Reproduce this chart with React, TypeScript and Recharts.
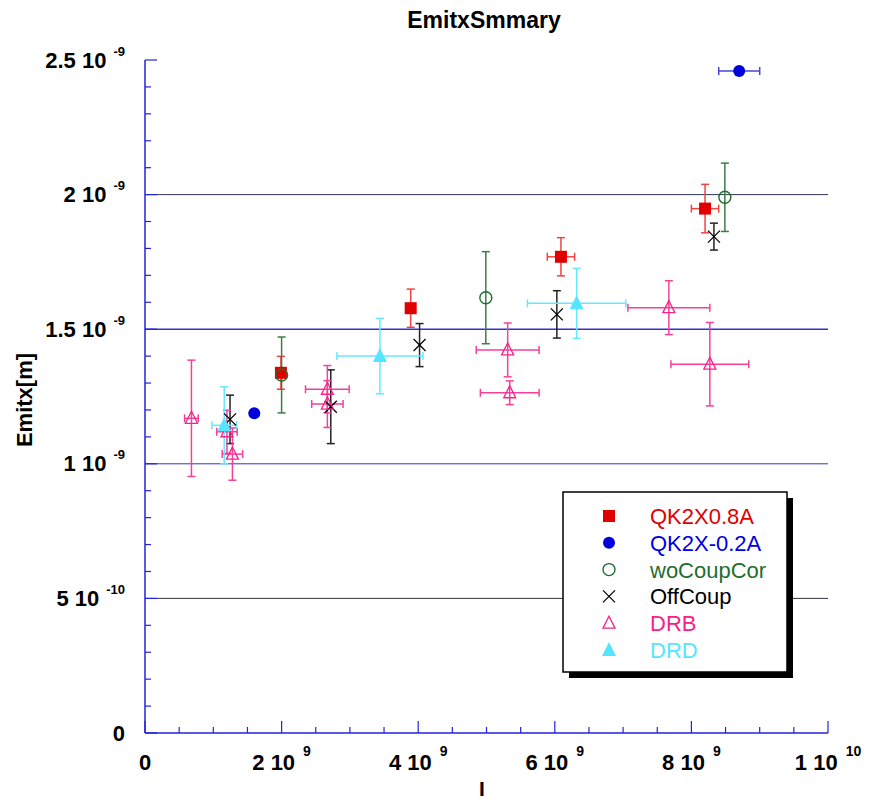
import { ScatterChart, Scatter, XAxis, YAxis, ErrorBar, ReferenceLine } from 'recharts';

// x in units of 1e9 (I), y in units of 1e-9 m (Emitx)
const X_TICKS = [0, 0.5, 1, 1.5, 2, 2.5, 3, 3.5, 4, 4.5, 5, 5.5, 6, 6.5, 7, 7.5, 8, 8.5, 9, 9.5, 10];
const Y_TICKS = [
  0, 0.1, 0.2, 0.3, 0.4, 0.5, 0.6, 0.7, 0.8, 0.9, 1, 1.1, 1.2, 1.3, 1.4, 1.5, 1.6, 1.7, 1.8, 1.9, 2, 2.1,
  2.2, 2.3, 2.4, 2.5,
];
const X_LABEL_VALUES = [0, 2, 4, 6, 8, 10];
const X_LABEL_BASE = ['0', '2 10', '4 10', '6 10', '8 10', '1 10'];
const X_LABEL_EXP = ['', '9', '9', '9', '9', '10'];
const Y_LABEL_VALUES = [0, 0.5, 1, 1.5, 2, 2.5];
const Y_LABEL_BASE = ['0', '5 10', '1 10', '1.5 10', '2 10', '2.5 10'];
const Y_LABEL_EXP = ['', '-10', '-9', '-9', '-9', '-9'];

// QK2X0.8A
const QK08_I = [1.99, 3.89, 6.09, 8.2];
const QK08_EMIT = [1.338, 1.578, 1.769, 1.948];
const QK08_EI = [0, 0, 0.2, 0.2];
const QK08_EE = [0.061, 0.071, 0.071, 0.09];
// QK2X-0.2A
const QKM02_I = [1.6, 8.7];
const QKM02_EMIT = [1.188, 2.459];
const QKM02_EI = [0, 0.3];
const QKM02_EE = [0, 0];
// woCoupCor
const WOCOUP_I = [2.0, 4.99, 8.49];
const WOCOUP_EMIT = [1.33, 1.617, 1.99];
const WOCOUP_EE = [0.141, 0.171, 0.127];
// OffCoup
const OFF_I = [1.245, 2.72, 4.02, 6.03, 8.33];
const OFF_EMIT = [1.165, 1.212, 1.441, 1.555, 1.844];
const OFF_EE = [0.09, 0.137, 0.08, 0.088, 0.05];
// DRB
const DRB_I = [0.68, 1.2, 1.28, 2.67, 2.67, 5.31, 5.34, 7.67, 8.27];
const DRB_EMIT = [1.169, 1.119, 1.036, 1.277, 1.222, 1.423, 1.264, 1.58, 1.37];
const DRB_EI = [0.1, 0.15, 0.15, 0.32, 0.23, 0.46, 0.43, 0.6, 0.57];
const DRB_EE = [0.216, 0.08, 0.097, 0.088, 0.087, 0.1, 0.044, 0.1, 0.155];
// DRD
const DRD_I = [1.16, 3.44, 6.32];
const DRD_EMIT = [1.143, 1.4, 1.596];
const DRD_EI = [0.18, 0.63, 0.72];
const DRD_EE = [0.143, 0.14, 0.13];

const FRAME = '#2222dd';
const FONT = '"Liberation Sans", Arial, Helvetica, sans-serif';

const COLORS = {
  qk08: '#e00000',
  qkm02: '#0000dd',
  wocoup: '#1e6e2e',
  off: '#000000',
  drb: '#f5228a',
  drd: '#55e5ff',
};

const toPoints = (xs: number[], ys: number[], exs?: number[], eys?: number[]) =>
  xs.map((x, i) => ({ x, y: ys[i], ex: exs ? exs[i] : 0, ey: eys ? eys[i] : 0 }));

type Kind = 'square' | 'disc' | 'ring' | 'cross' | 'triOpen' | 'triFill';

function Marker({ kind, cx, cy, color }: { kind: Kind; cx: number; cy: number; color: string }) {
  switch (kind) {
    case 'square':
      return <rect x={cx - 6} y={cy - 6} width={12} height={12} fill={color} />;
    case 'disc':
      return <circle cx={cx} cy={cy} r={6} fill={color} />;
    case 'ring':
      return <circle cx={cx} cy={cy} r={6} fill="none" stroke={color} strokeWidth={1.4} />;
    case 'cross':
      return (
        <g stroke={color} strokeWidth={1.3}>
          <line x1={cx - 6} y1={cy - 6} x2={cx + 6} y2={cy + 6} />
          <line x1={cx - 6} y1={cy + 6} x2={cx + 6} y2={cy - 6} />
        </g>
      );
    case 'triOpen':
      return (
        <polygon
          points={`${cx},${cy - 7} ${cx - 6},${cy + 5} ${cx + 6},${cy + 5}`}
          fill="none"
          stroke={color}
          strokeWidth={1.3}
        />
      );
    default:
      return <polygon points={`${cx},${cy - 8} ${cx - 7},${cy + 6} ${cx + 7},${cy + 6}`} fill={color} />;
  }
}

const shape = (kind: Kind, color: string) => (p: any) => <Marker kind={kind} cx={p.cx} cy={p.cy} color={color} />;

const isMajor = (v: number, step: number) => Math.abs(v / step - Math.round(v / step)) < 1e-6;

function BottomTick({ x, y, payload }: any) {
  const v = payload.value;
  const idx = X_LABEL_VALUES.findIndex((t) => Math.abs(t - v) < 1e-6);
  const len = isMajor(v, 2) ? 12 : 6;
  return (
    <g>
      <line x1={x} x2={x} y1={y} y2={y - len} stroke={FRAME} strokeWidth={1.2} />
      {idx >= 0 && (
        <text x={x} y={y + 37} textAnchor="middle" fontFamily={FONT} fontWeight="bold" fontSize={22} fill="#000">
          <tspan>{X_LABEL_BASE[idx]}</tspan>
          {X_LABEL_EXP[idx] && (
            <tspan dx={8} dy={-14} fontSize={14}>
              {X_LABEL_EXP[idx]}
            </tspan>
          )}
        </text>
      )}
    </g>
  );
}

function TopTick({ x, y, payload }: any) {
  const len = isMajor(payload.value, 2) ? 12 : 6;
  return <line x1={x} x2={x} y1={y} y2={y + len} stroke={FRAME} strokeWidth={1.2} />;
}

function LeftTick({ x, y, payload }: any) {
  const v = payload.value;
  const idx = Y_LABEL_VALUES.findIndex((t) => Math.abs(t - v) < 1e-6);
  const len = isMajor(v, 0.5) ? 12 : 6;
  return (
    <g>
      <line x1={x} x2={x + len} y1={y} y2={y} stroke={FRAME} strokeWidth={1.2} />
      {idx >= 0 && (
        <text x={x - 20} y={y + 7.5} textAnchor="end" fontFamily={FONT} fontWeight="bold" fontSize={22} fill="#000">
          <tspan>{Y_LABEL_BASE[idx]}</tspan>
          {Y_LABEL_EXP[idx] && (
            <tspan dx={7} dy={-12} fontSize={13}>
              {Y_LABEL_EXP[idx]}
            </tspan>
          )}
        </text>
      )}
    </g>
  );
}

function RightTick({ x, y, payload }: any) {
  const len = isMajor(payload.value, 0.5) ? 12 : 6;
  return <line x1={x} x2={x - len} y1={y} y2={y} stroke={FRAME} strokeWidth={1.2} />;
}

const LEGEND_ITEMS: { name: string; kind: Kind; color: string }[] = [
  { name: 'QK2X0.8A', kind: 'square', color: COLORS.qk08 },
  { name: 'QK2X-0.2A', kind: 'disc', color: COLORS.qkm02 },
  { name: 'woCoupCor', kind: 'ring', color: COLORS.wocoup },
  { name: 'OffCoup', kind: 'cross', color: COLORS.off },
  { name: 'DRB', kind: 'triOpen', color: COLORS.drb },
  { name: 'DRD', kind: 'triFill', color: COLORS.drd },
];

export default function App() {
  const axisLine = { stroke: FRAME, strokeWidth: 1.5 };

  return (
    <div style={{ position: 'absolute', left: 0, top: 0, width: 871, height: 802, background: '#fff', fontFamily: FONT }}>
      <ScatterChart width={871} height={802} margin={{ top: 60, right: 43, bottom: 0, left: 0 }}>
        <XAxis
          xAxisId="bottom"
          type="number"
          dataKey="x"
          domain={[0, 10]}
          ticks={X_TICKS}
          interval={0}
          height={69}
          tickSize={0}
          tickMargin={0}
          tickLine={false}
          axisLine={axisLine}
          tick={<BottomTick />}
        />
        <XAxis
          xAxisId="top"
          orientation="top"
          type="number"
          dataKey="x"
          domain={[0, 10]}
          ticks={X_TICKS}
          interval={0}
          height={0}
          tickSize={0}
          tickMargin={0}
          tickLine={false}
          axisLine={axisLine}
          tick={<TopTick />}
        />
        <YAxis
          yAxisId="left"
          type="number"
          dataKey="y"
          domain={[0, 2.5]}
          ticks={Y_TICKS}
          interval={0}
          width={145}
          tickSize={0}
          tickMargin={0}
          tickLine={false}
          axisLine={axisLine}
          tick={<LeftTick />}
        />
        <YAxis
          yAxisId="right"
          orientation="right"
          type="number"
          dataKey="y"
          domain={[0, 2.5]}
          ticks={Y_TICKS}
          interval={0}
          width={0}
          tickSize={0}
          tickMargin={0}
          tickLine={false}
          axisLine={axisLine}
          tick={<RightTick />}
        />

        <ReferenceLine xAxisId="bottom" yAxisId="left" y={2} stroke="#333355" strokeWidth={1} />
        <ReferenceLine xAxisId="bottom" yAxisId="left" y={1.5} stroke="#3333cc" strokeWidth={1.6} />
        <ReferenceLine xAxisId="bottom" yAxisId="left" y={1} stroke="#3333cc" strokeWidth={1} />
        <ReferenceLine xAxisId="bottom" yAxisId="left" y={0.5} stroke="#333344" strokeWidth={1} />

        <Scatter
          xAxisId="bottom"
          yAxisId="left"
          name="QK2X0.8A"
          data={toPoints(QK08_I, QK08_EMIT, QK08_EI, QK08_EE)}
          shape={shape('square', COLORS.qk08)}
          isAnimationActive={false}
        >
          <ErrorBar dataKey="ey" direction="y" width={4} stroke="#e44" strokeWidth={1.5} />
          <ErrorBar dataKey="ex" direction="x" width={4} stroke="#e44" strokeWidth={1.5} />
        </Scatter>
        <Scatter
          xAxisId="bottom"
          yAxisId="left"
          name="QK2X-0.2A"
          data={toPoints(QKM02_I, QKM02_EMIT, QKM02_EI, QKM02_EE)}
          shape={shape('disc', COLORS.qkm02)}
          isAnimationActive={false}
        >
          <ErrorBar dataKey="ex" direction="x" width={4} stroke="#4444dd" strokeWidth={1.5} />
        </Scatter>
        <Scatter
          xAxisId="bottom"
          yAxisId="left"
          name="woCoupCor"
          data={toPoints(WOCOUP_I, WOCOUP_EMIT, undefined, WOCOUP_EE)}
          shape={shape('ring', COLORS.wocoup)}
          isAnimationActive={false}
        >
          <ErrorBar dataKey="ey" direction="y" width={4} stroke="#3a7d46" strokeWidth={1.5} />
        </Scatter>
        <Scatter
          xAxisId="bottom"
          yAxisId="left"
          name="OffCoup"
          data={toPoints(OFF_I, OFF_EMIT, undefined, OFF_EE)}
          shape={shape('cross', COLORS.off)}
          isAnimationActive={false}
        >
          <ErrorBar dataKey="ey" direction="y" width={4} stroke="#222" strokeWidth={1.5} />
        </Scatter>
        <Scatter
          xAxisId="bottom"
          yAxisId="left"
          name="DRB"
          data={toPoints(DRB_I, DRB_EMIT, DRB_EI, DRB_EE)}
          shape={shape('triOpen', COLORS.drb)}
          isAnimationActive={false}
        >
          <ErrorBar dataKey="ey" direction="y" width={4} stroke="#f5409a" strokeWidth={1.5} />
          <ErrorBar dataKey="ex" direction="x" width={4} stroke="#f5409a" strokeWidth={1.5} />
        </Scatter>
        <Scatter
          xAxisId="bottom"
          yAxisId="left"
          name="DRD"
          data={toPoints(DRD_I, DRD_EMIT, DRD_EI, DRD_EE)}
          shape={shape('triFill', COLORS.drd)}
          isAnimationActive={false}
        >
          <ErrorBar dataKey="ey" direction="y" width={4} stroke="#66e8ff" strokeWidth={1.5} />
          <ErrorBar dataKey="ex" direction="x" width={4} stroke="#66e8ff" strokeWidth={1.5} />
        </Scatter>
      </ScatterChart>

      {/* title, axis names and legend box */}
      <svg width={871} height={802} style={{ position: 'absolute', left: 0, top: 0, pointerEvents: 'none' }}>
        <text x={484} y={28} textAnchor="middle" fontFamily={FONT} fontWeight="bold" fontSize={23}>
          EmitxSmmary
        </text>
        <text x={482} y={796} textAnchor="middle" fontFamily={FONT} fontWeight="bold" fontSize={21}>
          I
        </text>
        <text
          x={32}
          y={400}
          textAnchor="middle"
          fontFamily={FONT}
          fontWeight="bold"
          fontSize={22}
          transform="rotate(-90 32 400)"
        >
          Emitx[m]
        </text>

        <rect x={569} y={498} width={224} height={180} fill="#000" />
        <rect x={563} y={492} width={224} height={180} fill="#fff" stroke="#000" strokeWidth={1.5} />
        {LEGEND_ITEMS.map((item, i) => {
          const cy = 516 + i * 26.8;
          return (
            <g key={item.name}>
              <Marker kind={item.kind} cx={609} cy={cy} color={item.color} />
              <text x={650} y={cy + 8} fontFamily={FONT} fontSize={22} fill={item.color}>
                {item.name}
              </text>
            </g>
          );
        })}
      </svg>
    </div>
  );
}
